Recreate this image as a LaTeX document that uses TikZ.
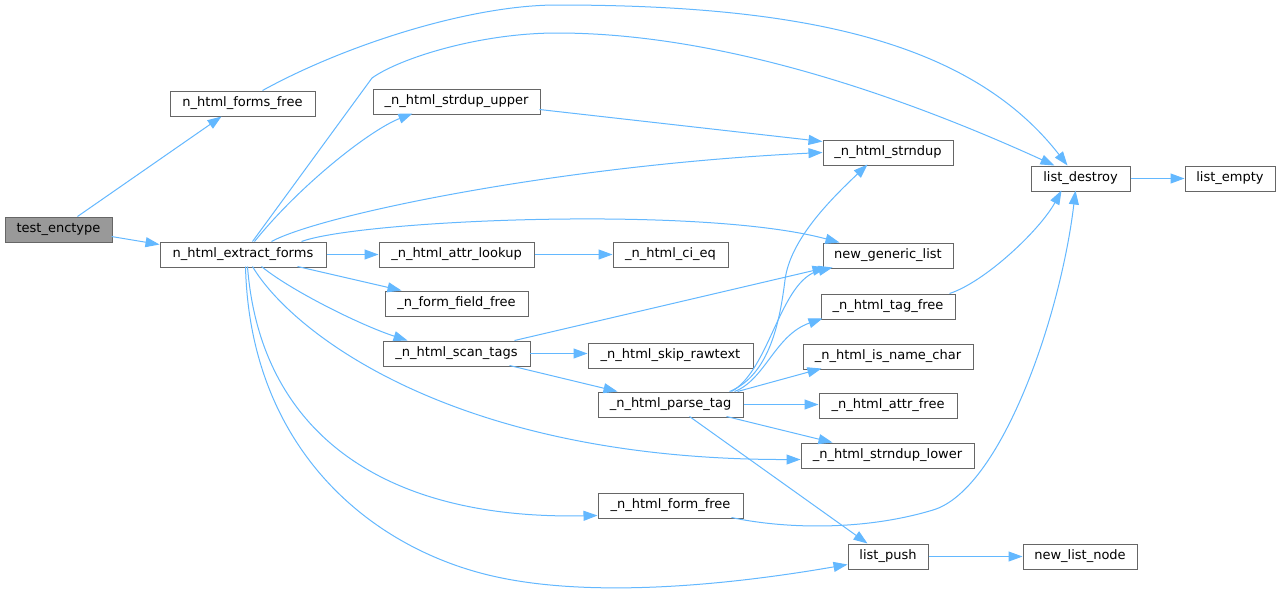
\documentclass[tikz,border=0pt]{standalone}
\usepackage{fontspec}
\setmainfont{DejaVu Sans}
\usetikzlibrary{arrows.meta,calc}
\definecolor{edgec}{HTML}{63B8FF}
\definecolor{boxc}{HTML}{666666}
\definecolor{hlfill}{HTML}{999999}
\newcommand\fn[7][]{\node[fnode,#1,minimum width={(#5-#3)*0.75pt},minimum height={(#6-#4)*0.75pt}] (#2) at ({(#3+#5)/2},{(#4+#6)/2}) {#7};}
\begin{document}
\begin{tikzpicture}[x=0.75pt,y=-0.75pt,
  fnode/.style={draw=boxc,fill=white,line width=0.75pt,inner sep=0pt,font=\fontsize{9.75}{11}\selectfont},
  hl/.style={fill=hlfill},
  call/.style={draw=edgec,line width=0.75pt,-{Triangle[length=10.5pt,width=7.5pt]}}]
\useasboundingbox (0,0) rectangle (1281,594);
\fill[white] (0,0) rectangle (1281,594);
% nodes
\fn[hl]{test}{5}{217}{112}{242}{test\_enctype}
\fn{ffree}{170}{91}{315}{116}{n\_html\_forms\_free}
\fn{extract}{160}{242}{326}{267}{n\_html\_extract\_forms}
\fn{sdupup}{373}{89}{540}{114}{\_n\_html\_strdup\_upper}
\fn{alookup}{379}{242}{534}{267}{\_n\_html\_attr\_lookup}
\fn{ffield}{385}{291}{528}{316}{\_n\_form\_field\_free}
\fn{scan}{383}{341}{530}{366}{\_n\_html\_scan\_tags}
\fn{cieq}{613}{242}{728}{267}{\_n\_html\_ci\_eq}
\fn{skip}{588}{343}{753}{368}{\_n\_html\_skip\_rawtext}
\fn{parse}{598}{392}{743}{417}{\_n\_html\_parse\_tag}
\fn{formfree}{598}{493}{743}{518}{\_n\_html\_form\_free}
\fn{strndup}{823}{140}{953}{165}{\_n\_html\_strndup}
\fn{ngl}{823}{243}{953}{268}{new\_generic\_list}
\fn{tagfree}{821}{294}{955}{319}{\_n\_html\_tag\_free}
\fn{isname}{803}{344}{973}{369}{\_n\_html\_is\_name\_char}
\fn{attrfree}{819}{393}{957}{418}{\_n\_html\_attr\_free}
\fn{lower}{801}{443}{974}{468}{\_n\_html\_strndup\_lower}
\fn{push}{848}{544}{928}{569}{list\_push}
\fn{nln}{1023}{544}{1137}{569}{new\_list\_node}
\fn{ldestroy}{1031}{166}{1130}{191}{list\_destroy}
\fn{lempty}{1185}{166}{1275}{191}{list\_empty}
% edges
\draw[call] ($(test.north west)+(73,0)$) -- ($(ffree.south west)+(52,0)$);
\draw[call] ($(test.north west)+(107,20)$) -- ($(extract.north west)+(0,3)$);
\draw[call] ($(ffree.north west)+(93,0)$) .. controls (345,45) and (470,5) .. (557,5)
  .. controls (800,5) and (970,40) .. ($(ldestroy.north west)+(37,0)$);
\draw[call] ($(extract.north west)+(93,0)$) -- (372,78) .. controls (400,58) and (480,33) .. (557,33)
  .. controls (720,33) and (900,95) .. ($(ldestroy.north west)+(24,0)$);
\draw[call] ($(extract.north west)+(95,0)$) .. controls (300,185) and (370,130) .. ($(sdupup.north west)+(40,25)$);
\draw[call] ($(extract.north west)+(112,0)$) .. controls (320,215) and (560,165) .. ($(strndup.north west)+(0,13)$);
\draw[call] ($(extract.north west)+(142,0)$) .. controls (360,220) and (700,205) .. ($(ngl.north west)+(17,0)$);
\draw[call] (extract.east) -- (alookup.west);
\draw[call] ($(extract.north west)+(138,25)$) -- ($(ffield.north west)+(17,0)$);
\draw[call] ($(extract.north west)+(102,25)$) .. controls (290,290) and (360,325) .. ($(scan.north west)+(25,0)$);
\draw[call] ($(extract.north west)+(93,25)$) .. controls (290,330) and (450,460) .. ($(lower.north west)+(0,17)$);
\draw[call] ($(extract.north west)+(88,25)$) .. controls (260,430) and (380,520) .. ($(formfree.north west)+(0,23)$);
\draw[call] ($(extract.north west)+(86,25)$) .. controls (250,450) and (372,550) .. (497,577)
  .. controls (580,595) and (700,590) .. ($(push.north west)+(0,21)$);
\draw[call] ($(sdupup.north west)+(167,21)$) -- ($(strndup.north west)+(0,2)$);
\draw[call] (alookup.east) -- (cieq.west);
\draw[call] ($(scan.north west)+(132,0)$) -- ($(ngl.north west)+(4,25)$);
\draw[call] ($(scan.north west)+(147,13)$) -- ($(skip.north west)+(0,11)$);
\draw[call] ($(scan.north west)+(127,25)$) -- ($(parse.north west)+(20,0)$);
\draw[call] ($(parse.north west)+(132,0)$) .. controls (770,375) and (780,320) .. (785,280)
  .. controls (790,240) and (830,200) .. ($(strndup.north west)+(45,25)$);
\draw[call] ($(parse.north west)+(134,0)$) .. controls (770,370) and (780,280) .. ($(ngl.north west)+(10,25)$);
\draw[call] ($(parse.north west)+(137,0)$) .. controls (765,380) and (775,335) .. ($(tagfree.north west)+(2,25)$);
\draw[call] ($(parse.north west)+(140,0)$) -- ($(isname.north west)+(19,25)$);
\draw[call] ($(parse.north east)+(0,13)$) -- ($(attrfree.north west)+(0,12)$);
\draw[call] ($(parse.north west)+(129,25)$) -- ($(lower.north west)+(32,0)$);
\draw[call] ($(parse.north west)+(92,25)$) -- ($(push.north west)+(20,0)$);
\draw[call] ($(tagfree.north west)+(129,0)$) .. controls (985,282) and (1040,230) .. ($(ldestroy.north west)+(31,25)$);
\draw[call] ($(formfree.north west)+(134,25)$) .. controls (780,528) and (860,532) .. (933,510)
  .. controls (1000,490) and (1060,320) .. ($(ldestroy.north west)+(45,25)$);
\draw[call] (push.east) -- (nln.west);
\draw[call] (ldestroy.east) -- (lempty.west);
\end{tikzpicture}
\end{document}
